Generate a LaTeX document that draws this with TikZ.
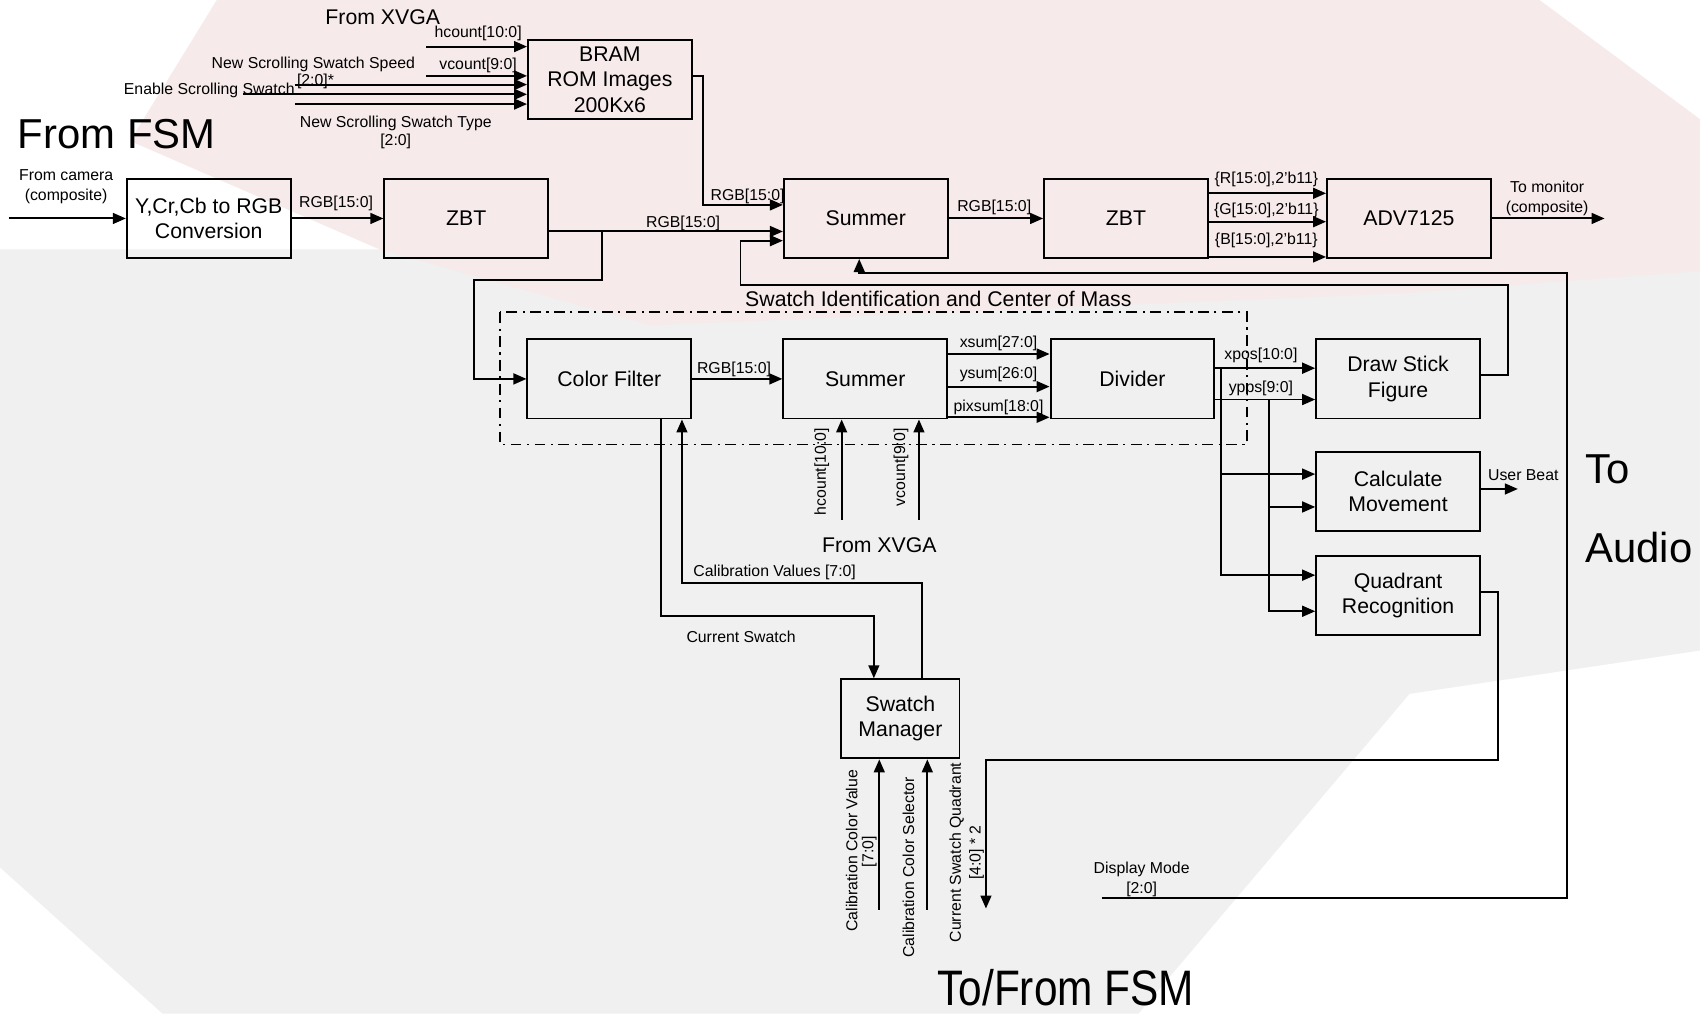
\documentclass[tikz,border=0pt]{standalone}
\usepackage{fontspec}
\setmainfont{Liberation Sans}
\newfontfamily\narrowfont[FakeStretch=0.85]{Liberation Sans}
\usetikzlibrary{arrows.meta}
\definecolor{pinkbg}{RGB}{246,234,234}
\definecolor{greybg}{RGB}{240,240,240}
\begin{document}
\begin{tikzpicture}[x=0.5pt,y=-0.5pt,
  box/.style={draw,line width=0.9pt,minimum width=75.5pt,minimum height=36.5pt,inner sep=0pt,align=center,font=\fontsize{9.8}{11.7}\selectfont},
  lab/.style={inner sep=0pt,font=\fontsize{7.3}{9}\selectfont,align=center},
  med/.style={inner sep=0pt,font=\fontsize{9.8}{11.7}\selectfont,align=center},
  big/.style={inner sep=0pt,font=\fontsize{19.3}{22}\selectfont},
  arr/.style={line width=0.9pt,-{Triangle[length=6pt,width=5pt]}},
  ln/.style={line width=0.9pt},
  dd/.style={line width=0.7pt,dash pattern=on 5pt off 2.5pt on 1pt off 2.5pt}]
\useasboundingbox (0,0) rectangle (1568,935);
\fill[white] (0,0) rectangle (1568,935);
\fill[greybg] (0,230) -- (1568,230) -- (1568,600) -- (1300,640) -- (1050,935) -- (150,935) -- (0,800) -- cycle;
\fill[pinkbg] (200,0) -- (1420,0) -- (1568,110) -- (1568,250) -- (1300,270) -- (600,300) -- (350,230) -- (120,130) -- cycle;

% ---- blocks
\node[box] (bram) at (562.5,73.5) {BRAM\\ROM Images\\200Kx6};
\node[box] (ycc) at (192.5,201.5) {Y,Cr,Cb to RGB\\Conversion};
\node[box] (zbt1) at (430,201.5) {ZBT};
\node[box] (sum1) at (798.5,201.5) {Summer};
\node[box] (zbt2) at (1038.5,201.5) {ZBT};
\node[box] (adv) at (1299.5,201.5) {ADV7125};
\node[box] (cf) at (562,349.5) {Color Filter};
\node[box] (sum2) at (798,349.5) {Summer};
\node[box] (div) at (1044.5,349.5) {Divider};
\node[box] (dsf) at (1289.5,349.5) {Draw Stick\\Figure};
\node[box] (calc) at (1289.5,453) {Calculate\\Movement};
\node[box] (quad) at (1289.5,549.5) {Quadrant\\Recognition};
\node[box,minimum width=54.5pt] (sm) at (830.5,663) {Swatch\\Manager};

% ---- big titles
\node[big,anchor=west] (tfsm) at (16,124) {From FSM};
\node[big,anchor=west] (tto) at (1462,433) {To};
\node[big,anchor=west] (taud) at (1462,505) {Audio};
\node[inner sep=0pt,font=\narrowfont\fontsize{23}{26}\selectfont] (ttf) at (983,911) {To/From FSM};

% ---- top inputs to BRAM
\node[med] (xvga1) at (353,16) {From XVGA};
\coordinate (h1) at (393,43);
\coordinate (v1) at (393,70);
\coordinate (sp1) at (272,78);
\coordinate (en1) at (224,87);
\coordinate (ty1) at (272,96);
\draw[arr] (h1) -- (h1 -| bram.west);
\draw[arr] (v1) -- (v1 -| bram.west);
\draw[arr] (sp1) -- (sp1 -| bram.west);
\draw[arr] (en1) -- (en1 -| bram.west);
\draw[arr] (ty1) -- (ty1 -| bram.west);
\node[lab] (lh1) at (441,31) {hcount[10:0]};
\node[lab] (lv1) at (441,60) {vcount[9:0]};
\node[lab] (lsp) at (289,59) {New Scrolling Swatch Speed};
\node[lab] (lsp2) at (291,75) {[2:0]*};
\node[lab] (len) at (193,83) {Enable Scrolling Swatch};
\node[lab,font=\fontsize{7.3}{8.6}\selectfont] (lty) at (365,122) {New Scrolling Swatch Type\\{}[2:0]};

% ---- BRAM to summer
\coordinate (bc) at (648,189);
\draw[arr] (bram.east |- v1) -| (bc) -- (bc -| sum1.west);
\node[lab] (lbr) at (689.5,181.5) {RGB[15:0]};

% ---- camera path
\coordinate (cam) at (8,201.5);
\draw[arr] (cam) -- (ycc.west);
\node[lab] (lcam) at (61,172) {From camera\\(composite)};
\draw[arr] (ycc) -- (zbt1);
\node[lab] (lrgb1) at (310,188) {RGB[15:0]};
\coordinate (zb) at (555,213.5);
\draw[arr] (zbt1.east |- zb) -- (zb -| sum1.west);
\node[lab] (lrgb2) at (630,206) {RGB[15:0]};
\coordinate (zb2) at (437,258);
\draw[arr] (zb) |- (zb2) |- (cf.west);

% ---- summer -> zbt -> adv
\draw[arr] (sum1) -- (zbt2);
\node[lab] (lrgb3) at (917,191) {RGB[15:0]};
\coordinate (r1) at (1120,178.3);
\coordinate (r2) at (1120,204.5);
\coordinate (r3) at (1120,237);
\draw[arr] (zbt2.east |- r1) -- (adv.west |- r1);
\draw[arr] (zbt2.east |- r2) -- (adv.west |- r2);
\draw[arr] (zbt2.east |- r3) -- (adv.west |- r3);
\node[lab] (lr) at (1168,165.4) {\{R[15:0],2’b11\}};
\node[lab] (lg) at (1168,193.7) {\{G[15:0],2’b11\}};
\node[lab] (lb) at (1168,222) {\{B[15:0],2’b11\}};
\coordinate (mon) at (1480,201.5);
\draw[arr] (adv) -- (mon);
\node[lab] (lmon) at (1427,183) {To monitor\\(composite)};

% ---- feedback loops to summer
\coordinate (lp1) at (1391,263);
\coordinate (lp2) at (683,222);
\draw[arr] (dsf.east |- 0,346) -| (lp1) -| (lp2) -- (lp2 -| sum1.west);
\coordinate (dm) at (1016,828);
\coordinate (dmc) at (1445,252);
\draw[arr] (dm) -| (dmc) -| ([xshift=-3pt]sum1.south);
\node[lab] (ldm) at (1053,811) {Display Mode\\{}[2:0]};

% ---- swatch identification
\draw[dd] (461,288) rectangle (1150,410);
\node[med] (lsid) at (865.5,276) {Swatch Identification and Center of Mass};
\draw[arr] (cf) -- (sum2);
\node[lab] (lrgb4) at (677,341) {RGB[15:0]};
\coordinate (s1) at (930,326.5);
\coordinate (s2) at (930,356.6);
\coordinate (s3) at (930,384.9);
\draw[arr] (sum2.east |- s1) -- (div.west |- s1);
\draw[arr] (sum2.east |- s2) -- (div.west |- s2);
\draw[arr] (sum2.east |- s3) -- (div.west |- s3);
\node[lab] (lxs) at (921,316.7) {xsum[27:0]};
\node[lab] (lys) at (921,345.3) {ysum[26:0]};
\node[lab] (lps) at (921,376) {pixsum[18:0]};

% ---- divider outputs
\coordinate (x1) at (1126.5,339.6);
\coordinate (x2) at (1170.8,368.5);
\draw[arr] (div.east |- x1) -- (dsf.west |- x1);
\draw[arr] (div.east |- x2) -- (dsf.west |- x2);
\node[lab] (lxp) at (1163,328) {xpos[10:0]};
\node[lab] (lyp) at (1163,358) {ypps[9:0]};
\draw[arr] (x1) |- (calc.west |- 0,437.3);
\draw[arr] (x1) |- (quad.west |- 0,530.5);
\draw[arr] (x2) |- (calc.west |- 0,467.6);
\draw[arr] (x2) |- (quad.west |- 0,563.8);
\coordinate (ub) at (1400,451);
\draw[arr] (calc.east |- ub) -- (ub);
\node[lab] (lub) at (1405,438) {User Beat};
\coordinate (q1) at (1382,701);
\coordinate (qout) at (909.4,838);
\draw[arr] (quad.east |- 0,546) -| (q1) -| (qout);

% ---- bottom: color filter / swatch manager
\coordinate (cs1) at (609.4,568.2);
\coordinate (cs2) at (806,568.2);
\draw[arr] (cf.south -| cs1) -- (cs1) -- (cs2) -- (cs2 |- sm.north);
\node[lab] (lcs) at (683.5,587) {Current Swatch};
\coordinate (cv1) at (850.4,538);
\coordinate (cv2) at (629,538);
\draw[arr] (sm.north -| cv1) -- (cv1) -- (cv2) -- (cv2 |- cf.south);
\node[lab] (lcv) at (714.5,528) {Calibration Values [7:0]};
\coordinate (hc) at (776.3,479.6);
\coordinate (vc) at (847.6,479.6);
\draw[arr] (hc) -- (hc |- sum2.south);
\draw[arr] (vc) -- (vc |- sum2.south);
\node[lab,rotate=90] (lhc) at (758,435) {hcount[10:0]};
\node[lab,rotate=90] (lvc) at (831,431) {vcount[9:0]};
\node[med] (xvga2) at (811,502.7) {From XVGA};

\coordinate (cc1) at (811,839.3);
\coordinate (cc2) at (855.3,839.3);
\draw[arr] (cc1) -- (cc1 |- sm.south);
\draw[arr] (cc2) -- (cc2 |- sm.south);
\node[lab,rotate=90] (lccv) at (785.5,784.7) {Calibration Color Value};
\node[lab,rotate=90] (lccv2) at (801.8,785.5) {[7:0]};
\node[lab,rotate=90] (lccs) at (837.8,800) {Calibration Color Selector};
\node[lab,rotate=90] (lcsq) at (882.4,786.3) {Current Swatch Quadrant};
\node[lab,rotate=90] (lcsq2) at (900.8,786.4) {[4:0] * 2};
\end{tikzpicture}
\end{document}
